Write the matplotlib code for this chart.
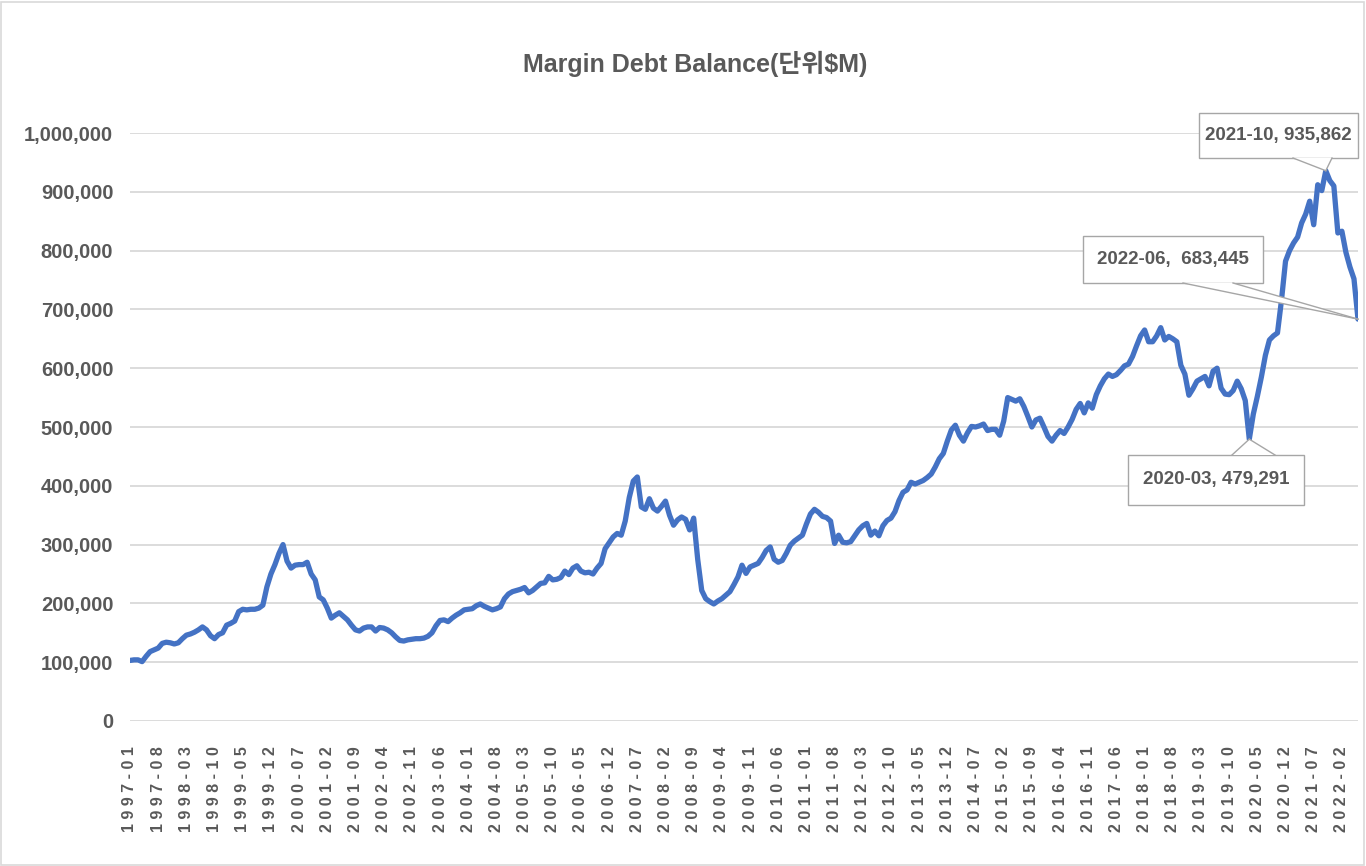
import matplotlib
matplotlib.use("Agg")
import matplotlib.pyplot as plt
import numpy as np
import pandas as pd
from matplotlib import font_manager
from matplotlib.lines import Line2D
from matplotlib.patches import Polygon, Rectangle
from matplotlib.ticker import FuncFormatter
from matplotlib.transforms import IdentityTransform

# Margin debt balance, thousands of $M, one list per year
debt_1997 = [103, 104, 104, 101, 110, 118, 121, 124, 132, 134, 133, 131]
debt_1998 = [133, 140, 146, 148, 151, 155, 160, 155, 145, 140, 147, 150]
debt_1999 = [163, 166, 170, 186, 190, 189, 190, 190, 192, 197, 228, 250]
debt_2000 = [266, 285, 300, 272, 260, 265, 266, 266, 270, 250, 240, 211]
debt_2001 = [206, 192, 175, 180, 184, 178, 172, 163, 155, 153, 158, 160]
debt_2002 = [160, 153, 159, 158, 155, 150, 143, 137, 136, 138, 139, 140]
debt_2003 = [140, 141, 144, 150, 162, 171, 172, 169, 175, 180, 184, 189]
debt_2004 = [190, 191, 196, 199, 195, 192, 189, 191, 194, 208, 216, 220]
debt_2005 = [222, 224, 227, 218, 222, 228, 234, 235, 246, 240, 241, 244]
debt_2006 = [255, 249, 260, 264, 255, 252, 253, 250, 260, 268, 293, 303]
debt_2007 = [313, 319, 316, 340, 380, 408, 415, 364, 360, 378, 362, 357]
debt_2008 = [365, 374, 350, 333, 342, 347, 343, 325, 345, 275, 222, 208]
debt_2009 = [203, 199, 204, 208, 214, 220, 232, 245, 265, 251, 262, 265]
debt_2010 = [268, 278, 290, 296, 275, 270, 273, 285, 299, 306, 311, 316]
debt_2011 = [335, 352, 360, 355, 348, 346, 340, 302, 316, 304, 303, 305]
debt_2012 = [315, 325, 332, 336, 316, 323, 315, 332, 341, 345, 356, 375]
debt_2013 = [389, 393, 406, 403, 406, 409, 414, 420, 432, 446, 455, 476]
debt_2014 = [495, 503, 486, 476, 490, 501, 500, 502, 505, 494, 496, 496]
debt_2015 = [486, 510, 550, 547, 544, 548, 535, 518, 500, 512, 515, 500]
debt_2016 = [484, 476, 486, 494, 489, 500, 513, 530, 540, 524, 541, 532]
debt_2017 = [555, 570, 582, 590, 586, 589, 596, 604, 607, 620, 638, 655]
debt_2018 = [665, 645, 645, 655, 669, 648, 654, 650, 645, 605, 590, 554]
debt_2019 = [565, 578, 582, 586, 570, 595, 600, 566, 556, 555, 562, 578]
debt_2020 = [565, 545, 479.291, 522, 552, 585, 622, 648, 655, 660, 716, 782]
debt_2021 = [800, 813, 823, 847, 862, 884, 844, 912, 902, 935.862, 919, 910]
debt_2022 = [830, 833, 797, 772, 752, 683.445]

START_MONTH = "1997-01"
TICK_STEP = 7

callout_months = ["2021-10", "2022-06", "2020-03"]
callout_labels = ["2021-10, 935,862", "2022-06,  683,445", "2020-03, 479,291"]

margin_debt = np.array(
    debt_1997 + debt_1998 + debt_1999 + debt_2000 + debt_2001 + debt_2002
    + debt_2003 + debt_2004 + debt_2005 + debt_2006 + debt_2007 + debt_2008
    + debt_2009 + debt_2010 + debt_2011 + debt_2012 + debt_2013 + debt_2014
    + debt_2015 + debt_2016 + debt_2017 + debt_2018 + debt_2019 + debt_2020
    + debt_2021 + debt_2022
) * 1000

months = [str(p) for p in pd.period_range(START_MONTH, periods=len(margin_debt), freq="M")]
x = np.arange(len(margin_debt))

GREY = "#595959"
GRID = "#D9D9D9"
BOXEDGE = "#A6A6A6"
BLUE = "#4472C4"

# narrow font if there is one, otherwise plain Liberation Sans at smaller sizes
names = {f.name for f in font_manager.fontManager.ttflist}
if "Liberation Sans Narrow" in names:
    LAT = "Liberation Sans Narrow"
    YSIZE, CSIZE, TSIZE = 17, 16, 21
else:
    LAT = "Liberation Sans"
    YSIZE, CSIZE, TSIZE = 14.5, 13.5, 18

W, H = 1366, 866
px = IdentityTransform()
fig = plt.figure(figsize=(W / 100, H / 100), dpi=100)
fig.patches.append(Rectangle((1 / W, 1 / H), 1 - 3 / W, 1 - 3 / H, transform=fig.transFigure,
                             fill=False, ec=GRID, lw=1.2))

ax = fig.add_axes([130 / W, 145 / H, 1228 / W, 588 / H])
ax.plot(x, margin_debt, color=BLUE, lw=3.8, solid_joinstyle="round", solid_capstyle="round", zorder=3)

ax.set_xlim(0, len(x) - 1)
ax.set_ylim(0, 1_000_000)
ax.set_yticks(np.arange(0, 1_000_001, 100_000))
ax.yaxis.set_major_formatter(FuncFormatter(lambda v, p: f"{int(v):,}"))
ax.grid(axis="y", color=GRID, lw=1.3)
ax.set_axisbelow(True)
for s in ax.spines.values():
    s.set_visible(False)
ax.tick_params(length=0)
ax.tick_params(axis="y", pad=12, labelcolor=GREY)
for lab in ax.get_yticklabels():
    lab.set_fontfamily(LAT)
    lab.set_fontweight("bold")
    lab.set_fontsize(YSIZE)

tick_idx = x[::TICK_STEP]
ax.set_xticks(tick_idx)
ax.set_xticklabels([" ".join(months[i]) for i in tick_idx], rotation=90,
                   fontfamily="Liberation Sans", fontweight="bold", fontsize=11.5, color=GREY)
ax.tick_params(axis="x", pad=18)

fig.text(695 / W, 1 - 64 / H, "Margin Debt Balance(단위$M)", ha="center", va="center",
         fontsize=TSIZE, fontweight="bold", color=GREY, family=[LAT, "Noto Sans CJK KR"])

# callout boxes, pixel layout from the top-left corner: box (x0, y0, x1, y1), wedge base x0, x1, base on top/bottom
boxes = [(1199, 113, 1358, 158), (1083, 236, 1263, 283), (1128, 455, 1304, 505)]
wedges = [(1293, 1332, "bottom"), (1183, 1233, "bottom"), (1232, 1275, "top")]

for month, label, (bx0, by0, bx1, by1), (wx0, wx1, side) in zip(callout_months, callout_labels, boxes, wedges):
    i = months.index(month)
    tip = ax.transData.transform((i, margin_debt[i]))
    fig.add_artist(Rectangle((bx0, H - by1), bx1 - bx0, by1 - by0, transform=px,
                             fc="white", ec=BOXEDGE, lw=1, zorder=5))
    base_y = H - (by1 if side == "bottom" else by0)
    fig.add_artist(Polygon([(wx0, base_y), tip, (wx1, base_y)], closed=True, transform=px,
                           fc="white", ec="none", zorder=6))
    for wx in (wx0, wx1):
        fig.add_artist(Line2D([wx, tip[0]], [base_y, tip[1]], transform=px,
                              color=BOXEDGE, lw=1, zorder=7))
    fig.text((bx0 + bx1) / 2 / W, 1 - (by0 + by1) / 2 / H, label, ha="center", va="center",
             fontsize=CSIZE, fontweight="bold", color=GREY, family=LAT, zorder=8)

fig.savefig("out.png", dpi=100)
